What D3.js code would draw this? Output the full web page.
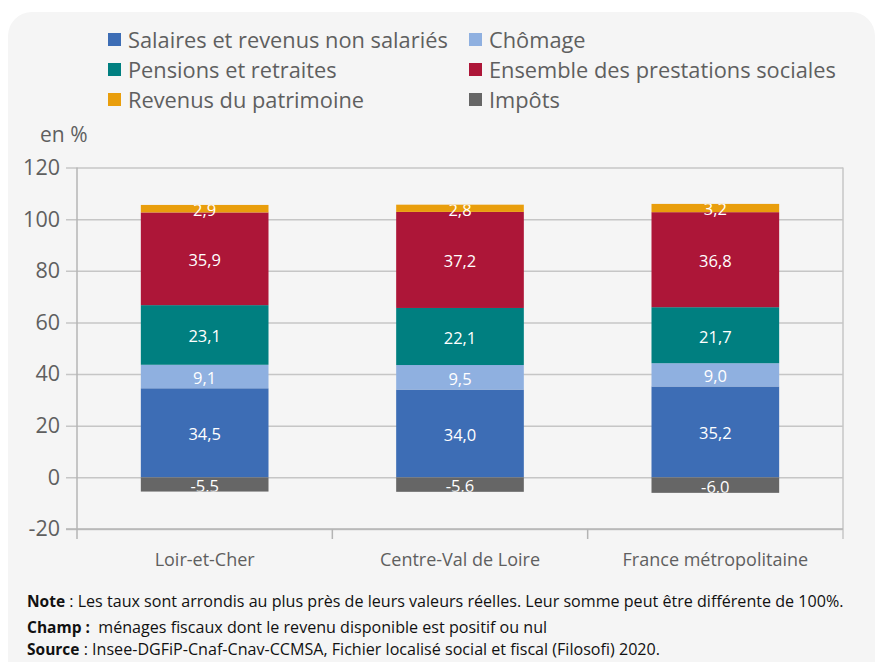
<!DOCTYPE html>
<html>
<head>
<meta charset="utf-8">
<script src="https://cdn.jsdelivr.net/npm/d3@7"></script>
<style>
  body { margin: 0; background: #fff; }
  svg { display: block; font-family: "Open Sans", sans-serif; }
</style>
</head>
<body>
<figure id="chart" style="margin:0"></figure>
<script>
// data
const territories = ["Loir-et-Cher", "Centre-Val de Loire", "France métropolitaine"];
const seriesNames = ["Salaires et revenus non salariés", "Chômage", "Pensions et retraites",
                     "Ensemble des prestations sociales", "Revenus du patrimoine", "Impôts"];
const salaires    = [34.5, 34.0, 35.2];
const chomage     = [9.1, 9.5, 9.0];
const pensions    = [23.1, 22.1, 21.7];
const prestations = [35.9, 37.2, 36.8];
const patrimoine  = [2.9, 2.8, 3.2];
const impots      = [-5.5, -5.6, -6.0];
const yTicks = [-20, 0, 20, 40, 60, 80, 100, 120];

const colors = ["#3d6db5", "#8fb0e0", "#007f80", "#ad1638", "#e99e0c", "#666666"];
const textColor = "#5f5f5f";

const W = 875, H = 662;
const pLeft = 77, pRight = 843, pTop = 167.5, pBottom = 529;

const svg = d3.select("#chart").append("svg")
  .attr("width", W).attr("height", H);

// panel background
svg.append("rect")
  .attr("x", 8).attr("y", 12)
  .attr("width", 867).attr("height", 700)
  .attr("rx", 24)
  .attr("fill", "#f5f5f5");

const x = d3.scaleBand()
  .domain(territories)
  .range([pLeft, pRight])
  .paddingInner(0.5)
  .paddingOuter(0.25);

const y = d3.scaleLinear()
  .domain([-20, 120])
  .range([pBottom, pTop]);

const fr = d3.formatLocale({ decimal: ",", thousands: " ", grouping: [3], currency: ["", " €"], minus: "-" });
const fmt = fr.format(".1f");

// grid + y axis
const yAxis = svg.append("g")
  .attr("transform", "translate(" + pLeft + ",0)")
  .call(d3.axisLeft(y).tickValues(yTicks).tickSize(11)
        .tickFormat(fr.format("d")));
yAxis.select(".domain").remove();
yAxis.selectAll(".tick line")
  .attr("x2", pRight - pLeft)
  .attr("x1", -11)
  .attr("stroke", "#c6c6c6")
  .attr("stroke-width", 1.5);
yAxis.selectAll(".tick text")
  .attr("x", -17)
  .attr("fill", textColor)
  .style("font-size", "21.5px")
  .style("font-family", "Open Sans");

// frame lines
svg.append("line")
  .attr("x1", pLeft).attr("x2", pLeft).attr("y1", pTop).attr("y2", pBottom + 10)
  .attr("stroke", "#b4b4b4").attr("stroke-width", 1.5);
svg.append("line")
  .attr("x1", pRight).attr("x2", pRight).attr("y1", pTop).attr("y2", pBottom + 10)
  .attr("stroke", "#c6c6c6").attr("stroke-width", 1.5);

// x axis with category separators
const xAxis = svg.append("g")
  .attr("transform", "translate(0," + pBottom + ")")
  .call(d3.axisBottom(x).tickSize(0).tickPadding(24));
xAxis.select(".domain").remove();
svg.append("line")
  .attr("x1", pLeft - 11).attr("x2", pRight).attr("y1", pBottom).attr("y2", pBottom)
  .attr("stroke", "#b4b4b4").attr("stroke-width", 1.5);
const seps = territories.map(t => x(t) - x.step() * x.paddingInner() / 2).slice(1);
svg.append("g").selectAll("line")
  .data(seps)
  .enter().append("line")
  .attr("x1", d => d).attr("x2", d => d)
  .attr("y1", pBottom).attr("y2", pBottom + 10)
  .attr("stroke", "#b4b4b4").attr("stroke-width", 1.5);
xAxis.selectAll(".tick text")
  .attr("fill", textColor)
  .style("font-size", "18px")
  .style("font-family", "Open Sans");

// build stacked segments
const cols = [salaires, chomage, pensions, prestations, patrimoine, impots];
const segments = [];
const columns = [];
territories.forEach((t, i) => {
  let base = 0, low = 0;
  cols.forEach((c, k) => {
    const v = c[i];
    let y0, y1;
    if (v >= 0) { y0 = base; y1 = base + v; base = y1; }
    else { y0 = v; y1 = 0; low = v; }
    segments.push({ t: t, i: i, k: k, v: v, y0: y0, y1: y1 });
  });
  columns.push({ t: t, hi: base, lo: low, id: "col" + i });
});

// labels are clipped to their whole bar
const defs = svg.append("defs");
defs.selectAll("clipPath")
  .data(columns)
  .enter().append("clipPath")
  .attr("id", d => d.id)
  .append("rect")
  .attr("x", d => x(d.t))
  .attr("y", d => y(d.hi))
  .attr("width", x.bandwidth())
  .attr("height", d => y(d.lo) - y(d.hi));

const bars = svg.append("g");
bars.selectAll("rect")
  .data(segments)
  .enter().append("rect")
  .attr("x", d => x(d.t))
  .attr("y", d => y(d.y1))
  .attr("width", x.bandwidth())
  .attr("height", d => y(d.y0) - y(d.y1))
  .attr("fill", d => colors[d.k]);

bars.selectAll("text")
  .data(segments)
  .enter().append("text")
  .attr("clip-path", d => "url(#col" + d.i + ")")
  .attr("x", d => x(d.t) + x.bandwidth() / 2)
  .attr("y", d => (y(d.y0) + y(d.y1)) / 2 + 1.5)
  .attr("dy", "0.36em")
  .attr("text-anchor", "middle")
  .attr("fill", "#ffffff")
  .style("font-size", "16.5px")
  .text(d => fmt(d.v));

// unit label
svg.append("text")
  .attr("x", 40).attr("y", 142)
  .attr("fill", textColor)
  .style("font-size", "21px")
  .text("en %");

// legend, two columns
const legendPos = [[108, 40], [469, 40], [108, 70], [469, 70], [108, 100], [469, 100]];
const legend = svg.append("g");
seriesNames.forEach((name, k) => {
  const p = legendPos[k];
  legend.append("rect")
    .attr("x", p[0]).attr("y", p[1] - 7)
    .attr("width", 13).attr("height", 13)
    .attr("fill", colors[k]);
  legend.append("text")
    .attr("x", p[0] + 20).attr("y", p[1])
    .attr("dy", "0.35em")
    .attr("fill", textColor)
    .style("font-size", "21.8px")
    .text(name);
});

// notes
const notes = [
  ["Note", " : Les taux sont arrondis au plus près de leurs valeurs réelles. Leur somme peut être différente de 100%.", 601],
  ["Champ :", "  ménages fiscaux dont le revenu disponible est positif ou nul", 627],
  ["Source", " : Insee-DGFiP-Cnaf-Cnav-CCMSA, Fichier localisé social et fiscal (Filosofi) 2020.", 649]
];
notes.forEach(n => {
  const t = svg.append("text")
    .attr("x", 27).attr("y", n[2])
    .attr("dy", "0.35em")
    .attr("fill", "#111111")
    .style("font-size", "16.1px");
  t.append("tspan").attr("font-weight", "bold").style("font-size", "15.5px").text(n[0]);
  t.append("tspan").style("white-space", "pre").text(n[1]);
});
</script>
</body>
</html>
